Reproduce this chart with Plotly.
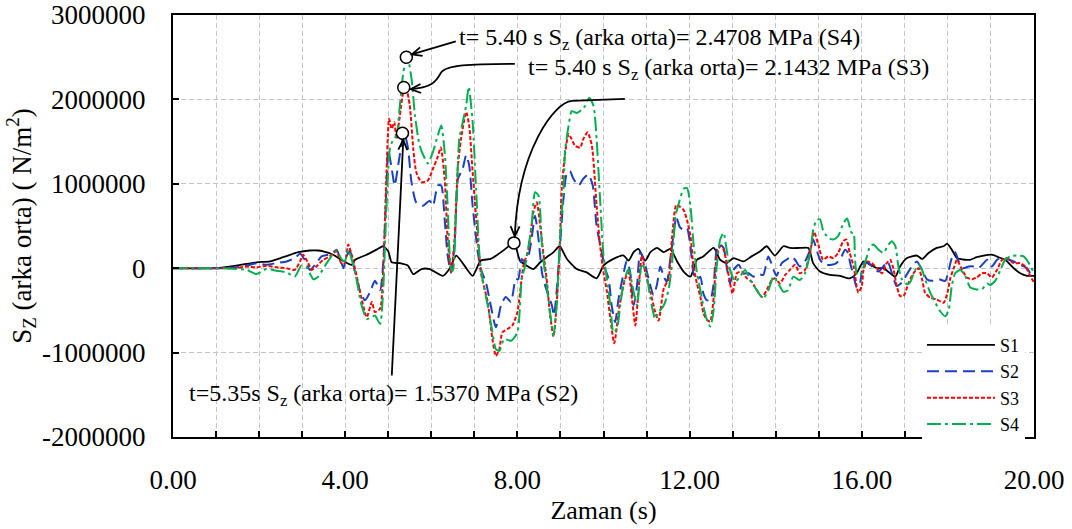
import math
import plotly.graph_objects as go

# ---------------- data (values in MPa) ----------------
MPA = 1e6

t_s1 = [0, 1.0, 1.47, 1.94, 2.25, 2.56, 2.91, 3.18, 3.37, 3.49, 3.72, 3.91, 4.15, 4.23, 4.5, 4.73,
        4.88, 5.0, 5.08, 5.27, 5.46, 5.58, 5.77, 5.96, 6.27, 6.42, 6.58, 6.77, 6.96, 7.15, 7.38, 7.62,
        7.77, 7.92, 8.06, 8.22, 8.37, 8.53, 8.68, 8.84, 8.98, 9.15, 9.38, 9.61, 9.84, 10.0, 10.23,
        10.47, 10.58, 10.7, 10.81, 10.97, 11.09, 11.24, 11.4, 11.55, 11.71, 11.86, 12.02, 12.17,
        12.32, 12.56, 12.71, 12.86, 13.02, 13.25, 13.44, 13.64, 13.79, 13.98, 14.18, 14.33, 14.56,
        14.76, 14.87, 15.03, 15.26, 15.49, 15.72, 15.88, 16.04, 16.2, 16.35, 16.5, 16.66, 16.78,
        16.89, 17.05, 17.28, 17.4, 17.55, 17.74, 17.9, 17.98, 18.09, 18.21, 18.4, 18.52, 18.67,
        18.83, 19.02, 19.18, 19.33, 19.53, 19.68, 19.84, 20.0]
s1 = [0, 0, 0.03, 0.07, 0.08, 0.13, 0.19, 0.21, 0.21, 0.20, 0.16, 0.10, 0.04, 0.10, 0.16, 0.22,
      0.26, 0.20, 0.07, 0.06, 0.03, -0.07, -0.01, -0.01, -0.09, -0.01, 0.15, 0.03, -0.09, 0.09, 0.11, 0.19,
      0.25, 0.31, 0.09, 0.03, -0.01, 0.07, 0.13, 0.19, 0.26, 0.11, -0.01, -0.05, -0.12, 0.03, 0.11,
      0.15, 0.09, 0.19, 0.23, 0.09, 0.19, 0.24, 0.19, 0.23, 0.08, -0.04, -0.10, 0.10,
      0.14, 0.24, 0.10, 0.06, 0.12, 0.08, 0.14, 0.20, 0.26, 0.15, 0.26, 0.24, 0.24,
      0.24, 0.06, -0.04, -0.08, -0.09, -0.12, -0.06, 0.08, 0.04, 0.0, 0.0, -0.06, -0.10,
      0.02, 0.12, 0.15, 0.11, 0.18, 0.24, 0.26, 0.29, 0.22, 0.12, 0.10, 0.10, 0.13,
      0.15, 0.16, 0.13, 0.10, 0.0, -0.06, -0.09, -0.09]

t_s2 = [0, 1.0, 1.08, 1.47, 1.71, 1.94, 2.17, 2.40, 2.64, 2.83, 2.95, 3.06, 3.18, 3.30, 3.45, 3.60,
        3.72, 3.80, 3.88, 3.96, 4.03, 4.11, 4.23, 4.35, 4.46, 4.58, 4.69, 4.81, 4.88, 4.96, 5.0,
        5.08, 5.15, 5.23, 5.35, 5.38, 5.46, 5.54, 5.65, 5.81, 5.96, 6.04, 6.15, 6.23, 6.31, 6.38,
        6.46, 6.54, 6.62, 6.73, 6.81, 6.88, 6.96, 7.08, 7.15, 7.27, 7.38, 7.50, 7.62, 7.73, 7.85,
        7.96, 8.02, 8.10, 8.18, 8.26, 8.33, 8.41, 8.49, 8.57, 8.64, 8.72, 8.80, 8.85, 8.91, 8.99,
        9.07, 9.15, 9.22, 9.30, 9.42, 9.53, 9.65, 9.75, 9.84, 9.96, 10.04, 10.12, 10.19, 10.27,
        10.35, 10.47, 10.54, 10.62, 10.70, 10.78, 10.85, 10.93, 11.05, 11.16, 11.24, 11.32, 11.40,
        11.47, 11.55, 11.63, 11.69, 11.77, 11.86, 11.94, 12.02, 12.09, 12.17, 12.25, 12.32, 12.40,
        12.48, 12.56, 12.63, 12.70, 12.79, 12.86, 12.94, 13.02, 13.14, 13.25, 13.37, 13.48, 13.60,
        13.71, 13.83, 13.95, 14.02, 14.14, 14.25, 14.37, 14.45, 14.56, 14.68, 14.80, 14.87, 14.95,
        15.03, 15.14, 15.30, 15.41, 15.53, 15.61, 15.68, 15.73, 15.81, 15.88, 15.96, 16.04, 16.16,
        16.27, 16.39, 16.50, 16.60, 16.70, 16.81, 16.93, 17.05, 17.16, 17.28, 17.40, 17.51, 17.63,
        17.78, 17.94, 18.02, 18.09, 18.17, 18.25, 18.36, 18.48, 18.60, 18.71, 18.83, 18.91, 19.02,
        19.14, 19.22, 19.37, 19.53, 19.68, 19.84, 19.95, 20.0]
s2 = [0, 0, 0, 0.01, 0.03, 0.06, 0.04, 0.06, 0.08, 0.12, 0.17, 0.10, -0.02, 0.04, 0.14, 0.16,
      0.19, 0.22, 0.12, 0.0, 0.14, 0.20, -0.05, -0.28, -0.38, -0.28, -0.15, -0.26, 0.03, 0.98, 1.40,
      1.18, 0.98, 1.22, 1.57, 1.59, 1.42, 1.02, 0.78, 0.74, 0.80, 0.74, 0.98, 0.98, 0.58, 0.15,
      -0.05, 0.27, 1.06, 1.18, 1.34, 1.22, 0.74, 0.19, -0.01, -0.17, -0.44, -0.70, -0.44, -0.34, -0.40,
      -0.13, -0.13, 0.11, 0.07, 0.15, 0.35, 0.62, 0.35, -0.05, -0.20, -0.32, -0.44, -0.56, -0.28, 0.27,
      0.82, 1.13, 1.15, 1.06, 0.98, 1.06, 1.11, 0.98, 0.50, 0.19, -0.01, -0.13, -0.44, -0.64,
      -0.36, -0.05, 0.09, -0.05, -0.44, -0.20, 0.19, 0.11, -0.13, -0.32, -0.20, 0.02, -0.10,
      -0.16, 0.10, 0.41, 0.61, 0.49, 0.45, 0.47, 0.26, -0.06, -0.14, -0.10, -0.30, -0.38,
      -0.38, -0.18, 0.22, 0.28, 0.24, 0.02, -0.18, -0.02, 0.04, -0.06, -0.06, -0.10, -0.07,
      -0.08, 0.14, -0.02, -0.09, 0.06, 0.10, 0.14, 0.10, 0.02, 0.08, 0.22, 0.34, 0.22,
      0.10, 0.04, 0.04, 0.06, 0.14, 0.22, 0.18, 0.06, -0.09, -0.23, -0.17, 0.06, 0.06,
      0.0, -0.04, 0.02, 0.08, -0.06, -0.21, -0.17, -0.07, 0.02, 0.08, -0.02, -0.13, -0.15,
      -0.13, -0.15, -0.02, 0.12, 0.19, 0.08, 0.0, 0.02, 0.02, 0.0, 0.06, 0.10, 0.02,
      0.10, 0.12, 0.11, 0.08, 0.04, 0.0, -0.09, -0.10]

t_s3 = [0, 1.0, 1.08, 1.47, 1.71, 1.94, 2.17, 2.40, 2.64, 2.83, 2.95, 3.02, 3.14, 3.22, 3.33, 3.49,
        3.64, 3.80, 3.91, 3.99, 4.07, 4.15, 4.23, 4.38, 4.50, 4.62, 4.69, 4.81, 4.88, 4.96, 5.02,
        5.08, 5.14, 5.19, 5.27, 5.35, 5.41, 5.50, 5.58, 5.65, 5.77, 5.92, 6.04, 6.15, 6.22, 6.31,
        6.38, 6.46, 6.54, 6.62, 6.69, 6.81, 6.88, 6.96, 7.08, 7.15, 7.31, 7.42, 7.50, 7.58, 7.65,
        7.77, 7.88, 8.0, 8.14, 8.26, 8.37, 8.45, 8.53, 8.60, 8.68, 8.76, 8.84, 8.91, 8.98, 9.03,
        9.11, 9.19, 9.26, 9.34, 9.46, 9.53, 9.63, 9.73, 9.84, 9.92, 10.0, 10.08, 10.16, 10.25,
        10.35, 10.43, 10.50, 10.58, 10.66, 10.74, 10.81, 10.89, 10.97, 11.09, 11.20, 11.28, 11.40,
        11.51, 11.59, 11.69, 11.77, 11.86, 11.94, 12.02, 12.09, 12.17, 12.25, 12.32, 12.40, 12.48,
        12.56, 12.63, 12.71, 12.79, 12.86, 12.94, 13.0, 13.10, 13.21, 13.33, 13.44, 13.56, 13.68,
        13.79, 13.91, 13.98, 14.10, 14.22, 14.33, 14.45, 14.56, 14.68, 14.80, 14.89, 14.99, 15.10,
        15.22, 15.34, 15.45, 15.57, 15.64, 15.72, 15.81, 15.88, 15.92, 16.0, 16.04, 16.12, 16.23,
        16.35, 16.47, 16.58, 16.66, 16.74, 16.81, 16.89, 16.97, 17.09, 17.20, 17.32, 17.40, 17.47,
        17.59, 17.74, 17.90, 17.99, 18.05, 18.15, 18.21, 18.33, 18.44, 18.56, 18.67, 18.79, 18.91,
        19.02, 19.14, 19.26, 19.37, 19.53, 19.68, 19.80, 19.91, 20.0]
s3 = [0, 0, 0, 0.0, 0.02, 0.01, 0.03, 0.01, 0.0, -0.02, 0.08, 0.16, 0.06, -0.02, 0.02, 0.10,
      0.14, 0.20, 0.06, 0.06, 0.28, 0.16, -0.01, -0.36, -0.58, -0.40, -0.52, -0.48, -0.05, 1.14, 1.77,
      1.65, 1.73, 1.53, 1.81, 2.09, 2.15, 1.93, 1.42, 1.14, 1.02, 1.04, 1.18, 1.32, 1.43, 1.06,
      0.35, -0.05, 0.35, 1.22, 1.53, 1.85, 1.69, 1.14, 0.35, -0.05, -0.40, -0.84, -1.04, -0.96, -0.76,
      -0.72, -0.68, -0.52, 0.03, 0.23, 0.66, 0.78, 0.50, 0.19, -0.13, -0.56, -0.81, -0.44, 0.19, 0.94,
      1.37, 1.59, 1.53, 1.45, 1.43, 1.53, 1.61, 1.45, 0.74, 0.27, -0.05, -0.28, -0.60, -0.89,
      -0.52, -0.28, -0.13, -0.05, -0.36, -0.68, -0.28, 0.15, -0.05, -0.28, -0.52, -0.62, -0.24,
      -0.13, 0.35, 0.75, 0.73, 0.69, 0.57, 0.38, 0.02, -0.18, -0.34, -0.53, -0.61, -0.63,
      -0.34, 0.14, 0.26, 0.22, 0.06, -0.18, -0.30, -0.06, -0.04, -0.12, -0.16, -0.26, -0.34,
      -0.26, -0.14, -0.12, -0.18, -0.08, -0.02, 0.04, -0.06, -0.02, 0.18, 0.43, 0.28, 0.10,
      0.14, 0.12, 0.18, 0.32, 0.34, 0.18, 0.02, -0.21, -0.29, -0.21, -0.02, 0.08, 0.06,
      0.0, -0.06, 0.06, 0.10, -0.02, -0.21, -0.33, -0.33, -0.17, -0.06, 0.0, -0.13, -0.29,
      -0.35, -0.37, -0.41, -0.29, -0.13, 0.02, 0.10, -0.02, -0.11, -0.13, -0.11, -0.06, -0.06,
      -0.11, -0.02, 0.10, 0.12, 0.06, 0.06, 0.02, -0.09, -0.17]

t_s4 = [0, 1.0, 1.08, 1.47, 1.71, 1.94, 2.17, 2.40, 2.64, 2.83, 2.98, 3.10, 3.26, 3.37, 3.57, 3.80,
        3.91, 3.99, 4.07, 4.23, 4.38, 4.50, 4.62, 4.69, 4.81, 4.88, 4.96, 5.04, 5.12, 5.19, 5.27,
        5.35, 5.44, 5.54, 5.62, 5.73, 5.85, 5.92, 6.04, 6.15, 6.23, 6.31, 6.38, 6.46, 6.50, 6.58,
        6.65, 6.73, 6.81, 6.87, 6.96, 7.04, 7.12, 7.19, 7.31, 7.42, 7.50, 7.58, 7.69, 7.85, 8.0,
        8.10, 8.18, 8.26, 8.33, 8.41, 8.49, 8.57, 8.64, 8.72, 8.84, 8.91, 8.99, 9.07, 9.11, 9.19,
        9.26, 9.38, 9.50, 9.57, 9.67, 9.77, 9.84, 9.92, 10.0, 10.08, 10.16, 10.23, 10.31, 10.39,
        10.47, 10.58, 10.70, 10.78, 10.89, 10.97, 11.09, 11.20, 11.28, 11.38, 11.46, 11.53, 11.60,
        11.67, 11.75, 11.86, 11.94, 12.02, 12.09, 12.17, 12.25, 12.32, 12.40, 12.48, 12.56, 12.63,
        12.71, 12.79, 12.86, 12.94, 13.06, 13.17, 13.29, 13.41, 13.56, 13.71, 13.83, 13.95, 14.06,
        14.18, 14.29, 14.41, 14.56, 14.68, 14.80, 14.87, 14.95, 15.03, 15.10, 15.22, 15.34, 15.45,
        15.57, 15.66, 15.76, 15.81, 15.84, 15.88, 15.96, 16.04, 16.12, 16.19, 16.27, 16.39, 16.50,
        16.62, 16.70, 16.78, 16.85, 16.93, 17.05, 17.12, 17.24, 17.32, 17.40, 17.47, 17.59, 17.71,
        17.82, 17.94, 18.02, 18.09, 18.17, 18.29, 18.40, 18.52, 18.64, 18.79, 18.91, 18.98, 19.10,
        19.22, 19.33, 19.45, 19.60, 19.76, 19.88, 20.0]
s4 = [0, 0, 0, -0.01, -0.02, -0.07, -0.01, -0.03, -0.05, -0.10, 0.03, 0.01, -0.13, -0.10, 0.06, 0.21,
      0.11, 0.08, 0.22, -0.05, -0.44, -0.60, -0.58, -0.56, -0.66, -0.28, 0.74, 1.42, 1.53, 1.57, 1.93,
      2.32, 2.52, 2.25, 1.81, 1.45, 1.30, 1.24, 1.38, 1.57, 1.69, 1.38, 0.74, -0.01, -0.03, 0.74,
      1.53, 1.73, 1.93, 2.15, 1.73, 0.94, 0.15, -0.13, -0.44, -0.76, -0.96, -0.98, -0.84, -0.86, -0.76,
      -0.13, 0.03, 0.27, 0.50, 0.90, 0.86, 0.27, -0.05, -0.36, -0.80, -0.44, 0.35, 0.94, 1.41, 1.69,
      1.86, 1.84, 1.88, 1.92, 2.02, 1.92, 1.53, 0.82, 0.15, -0.13, -0.44, -0.76, -0.72, -0.44,
      -0.17, -0.01, -0.28, -0.44, 0.03, -0.01, -0.36, -0.60, -0.52, -0.46, -0.36, -0.20, 0.10,
      0.61, 0.77, 0.94, 0.95, 0.73, 0.30, -0.06, -0.26, -0.45, -0.61, -0.69, -0.49, 0.02,
      0.34, 0.42, 0.22, -0.02, -0.16, -0.10, -0.02, -0.14, -0.26, -0.36, -0.26, -0.10, -0.18,
      -0.28, -0.26, -0.10, -0.14, -0.06, 0.18, 0.45, 0.57, 0.58, 0.45, 0.36, 0.34, 0.38,
      0.53, 0.59, 0.42, 0.42, 0.14, -0.06, -0.09, 0.02, 0.14, 0.26, 0.28, 0.22, 0.18,
      0.28, 0.32, 0.26, 0.02, -0.13, -0.19, -0.17, -0.02, 0.04, -0.02, -0.13, -0.29, -0.41,
      -0.51, -0.57, -0.49, -0.21, -0.06, -0.02, -0.09, -0.23, -0.25, -0.25, -0.18, -0.20, -0.15,
      -0.02, 0.10, 0.14, 0.15, 0.14, 0.06, -0.06]

# annotated points (circles)
mark_t = [5.42, 5.36, 5.33, 7.92]
mark_v = [2.50, 2.14, 1.60, 0.30]

series_names = ["S1", "S2", "S3", "S4"]
x_tick_vals = [0, 4, 8, 12, 16, 20]
x_tick_text = ["0.00", "4.00", "8.00", "12.00", "16.00", "20.00"]
y_tick_vals = [-2000000, -1000000, 0, 1000000, 2000000, 3000000]
y_tick_text = ["-2000000", "-1000000", "0", "1000000", "2000000", "3000000"]

# ---------------- styling ----------------
FONT = "Liberation Serif, Times New Roman, serif"
colors = ["#000000", "#1a3fc4", "#ff0000", "#00b050"]
dashes = ["solid", "12px,6px", "4px,2px", "14px,4px,3px,4px"]
widths = [1.8, 2, 2, 2]

fig = go.Figure()
for name, tt, vv, c, d, w in zip(series_names, [t_s1, t_s2, t_s3, t_s4], [s1, s2, s3, s4],
                                 colors, dashes, widths):
    fig.add_trace(go.Scatter(x=tt, y=[v * MPA for v in vv], mode="lines", name=name,
                             line=dict(color=c, width=w, dash=d, shape="spline", smoothing=0.6)))

fig.add_trace(go.Scatter(x=mark_t, y=[v * MPA for v in mark_v], mode="markers", showlegend=False,
                         marker=dict(symbol="circle", size=12, color="white",
                                     line=dict(color="black", width=1.5))))

# plot-area pixel geometry (for annotation placement)
L, R, T, B = 173.3, 1034.0, 15.0, 437.5


def px(x, y):
    return (x - L) / (R - L), (B - y) / (B - T)


def path(points_cmds):
    out = []
    for cmd, pts in points_cmds:
        coords = " ".join("%.5f,%.5f" % px(*p) for p in pts)
        out.append(cmd + coords)
    return " ".join(out)


def head(from_pt, tip, length=10, half=4.5):
    dx, dy = tip[0] - from_pt[0], tip[1] - from_pt[1]
    n = math.hypot(dx, dy)
    ux, uy = dx / n, dy / n
    bx, by = tip[0] - ux * length, tip[1] - uy * length
    a1 = (bx - uy * half, by + ux * half)
    a2 = (bx + uy * half, by - ux * half)
    return path([("M", [a1]), ("L", [tip]), ("L", [a2])])


annot_font = dict(family=FONT, size=24, color="black")
texts = [
    ("t= 5.40 s S<sub>z</sub> (arka orta)= 2.4708 MPa (S4)", 457, 39),
    ("t= 5.40 s S<sub>z</sub> (arka orta)= 2.1432 MPa (S3)", 526, 69),
    ("t=5.35s S<sub>z</sub> (arka orta)= 1.5370 MPa (S2)", 187, 395),
]
for txt, x, y in texts:
    xp, yp = px(x, y)
    fig.add_annotation(x=xp, y=yp, xref="paper", yref="paper", text=txt, showarrow=False,
                       xanchor="left", yanchor="middle", font=annot_font)

line_style = dict(color="black", width=1.8)
# straight arrows (tail, tip)
straight = [((456, 41.5), (412, 54.5)),   # S4
            ((392, 376), (403.5, 140))]   # S2
for tail, tip in straight:
    fig.add_shape(type="path", xref="paper", yref="paper",
                  path=path([("M", [tail]), ("L", [tip])]), line=line_style)
    fig.add_shape(type="path", xref="paper", yref="paper", path=head(tail, tip), line=line_style)

# curved connectors
fig.add_shape(type="path", xref="paper", yref="paper",
              path=path([("M", [(515, 64)]),
                         ("C", [(470, 64), (446, 65), (441, 73)]),
                         ("C", [(436, 83), (430, 88), (411, 89.3)])]),
              line=line_style)
fig.add_shape(type="path", xref="paper", yref="paper", path=head((430, 88), (411, 89.3)),
              line=line_style)
fig.add_shape(type="path", xref="paper", yref="paper",
              path=path([("M", [(625, 99)]),
                         ("L", [(572, 101)]),
                         ("C", [(555, 102), (518, 150), (515, 236.5)])]),
              line=line_style)
fig.add_shape(type="path", xref="paper", yref="paper", path=head((516, 200), (515, 236.5)),
              line=line_style)

grid = dict(showgrid=True, gridcolor="#c4c4c4", gridwidth=1, griddash="5px,3px")

fig.update_layout(
    width=1072, height=529,
    margin=dict(l=173, r=38, t=15, b=91.5),
    paper_bgcolor="white", plot_bgcolor="white",
    font=dict(family=FONT, size=27, color="black"),
    showlegend=True,
    legend=dict(x=px(922, 0)[0], y=px(0, 327)[1], xanchor="left", yanchor="top",
                bgcolor="white", borderwidth=0, font=dict(family=FONT, size=18),
                itemwidth=68, tracegroupgap=0),
    xaxis=dict(range=[0, 20], tickvals=x_tick_vals, ticktext=x_tick_text, automargin=False,
               ticks="inside", ticklen=6, tickwidth=1.5, tickcolor="black",
               showline=True, linecolor="black", linewidth=2, mirror=True,
               zeroline=False, ticklabelstandoff=18,
               minor=dict(dtick=1, ticks="inside", ticklen=6, tickwidth=1.5, tickcolor="black",
                          showgrid=True, gridcolor="#c4c4c4", griddash="5px,3px"),
               title=dict(text="Zaman (s)", standoff=6, font=dict(size=26)),
               **grid),
    yaxis=dict(range=[-2000000, 3000000], tickvals=y_tick_vals, ticktext=y_tick_text,
               automargin=False,
               ticks="inside", ticklen=6, tickwidth=1.5, tickcolor="black",
               showline=True, linecolor="black", linewidth=2, mirror=True,
               zeroline=False, ticklabelstandoff=20,
               title=dict(text="S<sub>Z</sub> (arka orta) ( N/m<sup>2</sup>)", standoff=3,
                          font=dict(size=27)),
               **grid),
)

fig.write_html("out.html")
